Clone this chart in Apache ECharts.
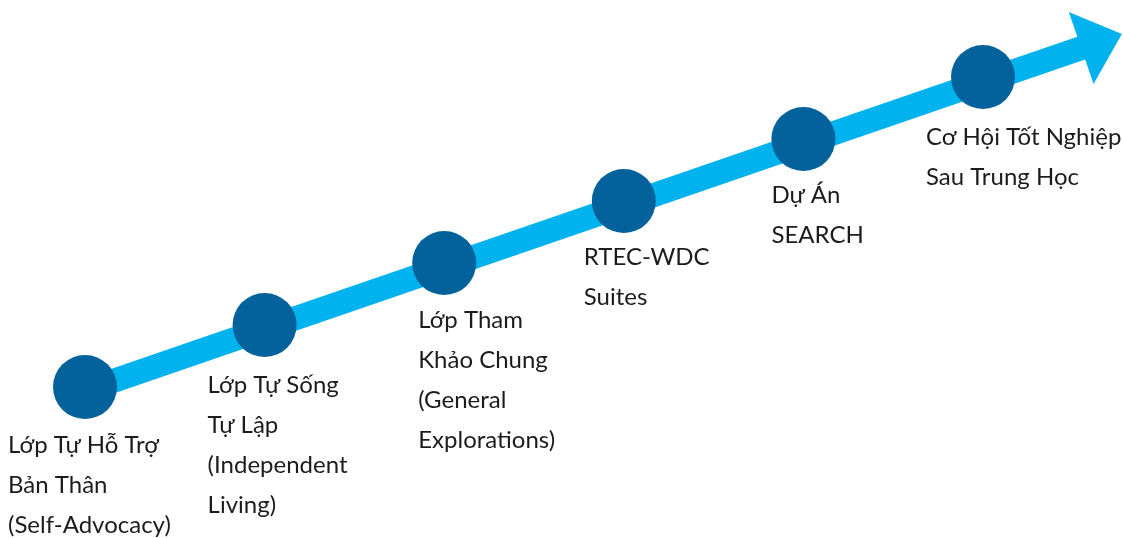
<!DOCTYPE html>
<html>
<head>
<meta charset="utf-8">
<script src="https://cdn.jsdelivr.net/npm/echarts@6/dist/echarts.min.js"></script>
<style>html,body{margin:0;padding:0;background:#fff}#c{width:1123px;height:538px}</style>
</head>
<body>
<div id="c"></div>
<script>
// Stage names (label lines)
const stageLabels = [
  "Lớp Tự Hỗ Trợ\nBản Thân\n(Self-Advocacy)",
  "Lớp Tự Sống\nTự Lập\n(Independent\nLiving)",
  "Lớp Tham\nKhảo Chung\n(General\nExplorations)",
  "RTEC-WDC\nSuites",
  "Dự Án\nSEARCH",
  "Cơ Hội Tốt Nghiệp\nSau Trung Học"
];
// Step along the path (x) and progression level (y)
const stageStep = [0, 1, 2, 3, 4, 5];
const stageLevel = [0, 1, 2, 3, 4, 5];
// Arrow shaft start and arrow head (data units)
const arrowStart = [0, -0.06];
const arrowEnd = [5.66, 5.58];

// layout-only: label offsets relative to each circle's box
const labelOffsets = [[-45, 70], [-25, 72], [6, 69], [-8, 68], [0, 68], [-25, 72]];

const DARK = '#03619B';
const LIGHT = '#00B2EE';

const chart = echarts.init(document.getElementById('c'), null, {renderer: 'canvas'});
chart.setOption({
  animation: false,
  backgroundColor: '#ffffff',
  grid: {left: 40.1, right: 5.3, top: 15, bottom: 27},
  xAxis: {type: 'value', min: -0.25, max: 5.75, show: false},
  yAxis: {type: 'value', min: -2, max: 6, show: false},
  series: [{
    type: 'line',
    z: 3,
    silent: true,
    clip: false,
    symbol: 'circle',
    symbolSize: 64,
    showAllSymbol: true,
    lineStyle: {width: 0, opacity: 0},
    itemStyle: {color: DARK},
    label: {
      show: true,
      align: 'left',
      verticalAlign: 'top',
      fontFamily: 'Lato',
      fontSize: 24,
      lineHeight: 40,
      color: '#1E1B1C',
      formatter: p => stageLabels[p.dataIndex]
    },
    data: stageStep.map((s, i) => ({
      value: [s, stageLevel[i]],
      label: {position: labelOffsets[i]}
    })),
    markLine: {
      z: 1,
      silent: true,
      animation: false,
      label: {show: false},
      emphasis: {disabled: true},
      symbolSize: [76, 43],
      lineStyle: {color: LIGHT, width: 24, type: 'solid', opacity: 1},
      itemStyle: {color: LIGHT},
      data: [[
        {coord: arrowStart, symbol: 'none'},
        {coord: arrowEnd, symbol: 'triangle'}
      ]]
    }
  }]
});
</script>
</body>
</html>
